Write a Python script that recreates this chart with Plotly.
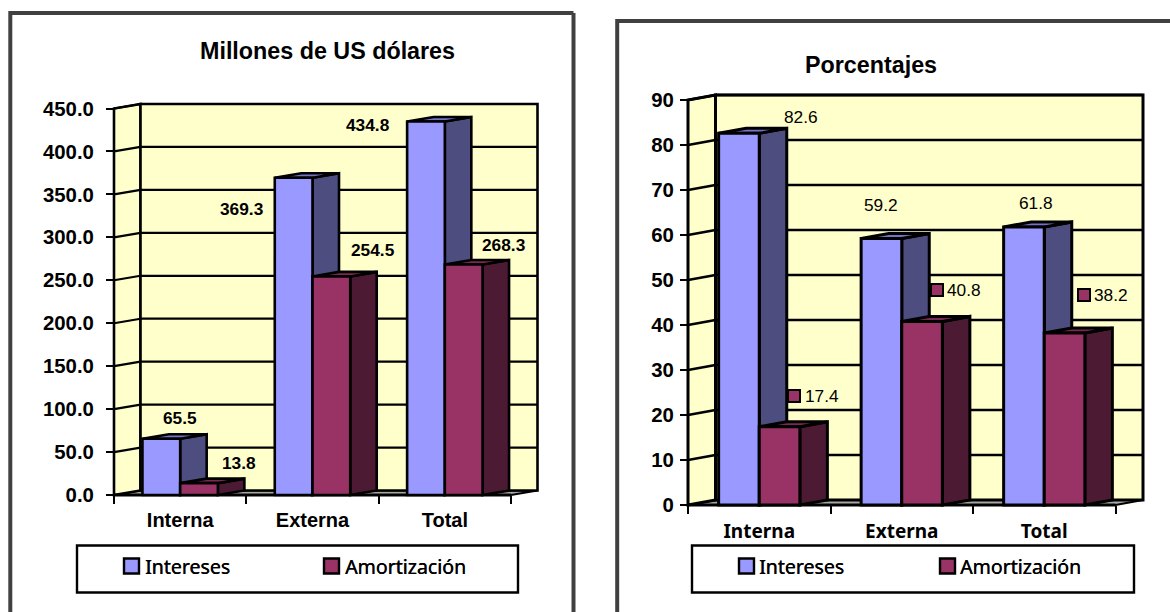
import plotly.graph_objects as go

# ---- data ----
categories = ["Interna", "Externa", "Total"]
series_names = ["Intereses", "Amortización"]
usd_intereses = [65.5, 369.3, 434.8]
usd_amortizacion = [13.8, 254.5, 268.3]
pct_intereses = [82.6, 59.2, 61.8]
pct_amortizacion = [17.4, 40.8, 38.2]
usd_ticks = [0, 50, 100, 150, 200, 250, 300, 350, 400, 450]
pct_ticks = [0, 10, 20, 30, 40, 50, 60, 70, 80, 90]
titles = ["Millones de US dólares", "Porcentajes"]

# ---- styles ----
W, H = 1170, 612
C_I, C_I_SIDE, C_I_TOP = "#9999FF", "#4D4D80", "#7373C8"
C_A, C_A_SIDE, C_A_TOP = "#993366", "#4D1A33", "#7A2952"
WALL, FLOOR = "#FFFFCC", "#A8A8A2"
BARGAP = 0.43
SANS = "Liberation Sans"
LEG = "Noto Sans"

panels = [
    dict(sfx="", left=114, right=511, bottom=495, top=108.5, ddx=26.5, ddy=4.5,
         ymax=450, ticks=usd_ticks, fmt=".1f", vals=(usd_intereses, usd_amortizacion),
         lw=2.2, blw=2.6, ystand=8, tickfont=dict(family=SANS, size=20.4, weight="bold"),
         xfont=dict(family=SANS, size=20, weight="bold"), xstand=11,
         labelfont=dict(family=SANS, size=17.3, weight="bold"),
         shifts=[[(19, 21), (-52, -31), (-58, -3.5)], [(40, 20), (42, 26), (40, 19.5)]],
         keys=[[None, None, None], [None, None, None]]),
    dict(sfx="2", left=688, right=1115.5, bottom=505, top=100, ddx=27.5, ddy=5,
         ymax=90, ticks=pct_ticks, fmt="d", vals=(pct_intereses, pct_amortizacion),
         lw=2.6, blw=3, ystand=2, tickfont=dict(family=SANS, size=20.4, weight="bold"),
         xfont=dict(family=LEG, size=19, weight="bold"), xstand=13,
         labelfont=dict(family=SANS, size=17.3),
         shifts=[[(62, 16), (0, 33.6), (12, 24)], [(42, 31), (42.4, 31), (46, 38)]],
         keys=[[None, None, None], [(14, 31), (15.4, 31), (19, 38)]]),
]

fig = go.Figure()
shapes, annots = [], []
PAD = 4


def poly(xs, ys, xr, yr, fill, lw=2.4, line="black"):
    path = "M" + "L".join(f"{x},{y}" for x, y in zip(xs, ys)) + "Z"
    shapes.append(dict(type="path", path=path, xref=xr, yref=yr, fillcolor=fill,
                       layer="below", line=dict(color=line, width=lw)))


def seg(x0, y0, x1, y1, xr, yr, lw=2, color="black"):
    shapes.append(dict(type="line", x0=x0, y0=y0, x1=x1, y1=y1, xref=xr, yref=yr,
                       layer="below", line=dict(color=color, width=lw)))


layout_axes = {}
for p in panels:
    sfx = p["sfx"]
    n = len(categories)
    catw = (p["right"] - p["left"]) / n
    ppu = (p["bottom"] - p["top"]) / p["ymax"]
    dx, dy = p["ddx"] / catw, p["ddy"] / ppu
    xr, yr = "x" + sfx, "y" + sfx
    xa = dict(
        domain=[(p["left"] - PAD) / W, (p["right"] + p["ddx"] + PAD) / W],
        range=[-PAD / catw, n + dx + PAD / catw], automargin=False,
        anchor="free", position=1 - p["bottom"] / H,
        tickmode="array", tickvals=[i + 0.5 for i in range(n)], ticktext=categories,
        ticks="", showgrid=False, zeroline=False, showline=False,
        tickfont=dict(color="black", **p["xfont"]), ticklabelstandoff=p["xstand"],
        minor=dict(ticks="outside", tickmode="array", tickvals=list(range(n + 1)),
                   ticklen=8, tickwidth=2, tickcolor="black", showgrid=False),
    )
    ya = dict(
        domain=[1 - (p["bottom"] + PAD) / H, 1 - (p["top"] - p["ddy"] - PAD) / H],
        range=[-PAD / ppu, p["ymax"] + dy + PAD / ppu], automargin=False,
        anchor="free", position=p["left"] / W,
        tickmode="array", tickvals=p["ticks"], tickformat=p["fmt"],
        ticks="outside", ticklen=8, tickwidth=2, tickcolor="black",
        showgrid=False, zeroline=False, showline=False,
        tickfont=dict(color="black", **p["tickfont"]), ticklabelstandoff=p["ystand"],
    )
    layout_axes["xaxis" + sfx] = xa
    layout_axes["yaxis" + sfx] = ya

    lw = p["lw"]
    blw = p["blw"]
    ym = p["ymax"]
    # floor
    poly([0, n, n + dx, dx], [0, 0, dy, dy], xr, yr, FLOOR, 2)
    # side wall and back wall
    poly([0, dx, dx, 0], [0, dy, ym + dy, ym], xr, yr, WALL, blw)
    poly([dx, n + dx, n + dx, dx], [dy, dy, ym + dy, ym + dy], xr, yr, WALL, blw)
    for t in p["ticks"][1:]:
        seg(0, t, dx, t + dy, xr, yr, lw)
        seg(dx, t + dy, n + dx, t + dy, xr, yr, lw)
    seg(0, 0, n, 0, xr, yr, 3)

    w = (1 - BARGAP) / 2
    sets = [(p["vals"][0], C_I, C_I_SIDE, C_I_TOP), (p["vals"][1], C_A, C_A_SIDE, C_A_TOP)]
    for si, (vals, front, side, top) in enumerate(sets):
        for i, v in enumerate(vals):
            x0 = i + BARGAP / 2 + si * w
            x1 = x0 + w
            poly([x1, x1, x1 + dx, x1 + dx], [0, v, v + dy, dy], xr, yr, side, blw)
            poly([x0, x1, x1 + dx, x0 + dx], [v, v, v + dy, v + dy], xr, yr, top, blw)
            sx, sy = p["shifts"][si][i]
            annots.append(dict(x=x0 + w / 2, y=v, xref=xr, yref=yr, text=f"{v:.1f}",
                               showarrow=False, xshift=sx, yshift=sy,
                               font=dict(color="black", **p["labelfont"])))
            k = p["keys"][si][i]
            if k:
                annots.append(dict(x=x0 + w / 2, y=v, xref=xr, yref=yr, text=" ",
                                   showarrow=False, xshift=k[0], yshift=k[1], width=10, height=10,
                                   bgcolor=C_A, bordercolor="black", borderwidth=2,
                                   borderpad=0, font=dict(size=1)))
        fig.add_trace(go.Bar(
            x=[i + 0.5 for i in range(n)], y=vals, name=series_names[si],
            xaxis=xr, yaxis=yr, marker=dict(color=front, line=dict(color="black", width=blw)),
            hoverinfo="x+y", showlegend=False,
        ))


def px_x(v):
    return v / W


def px_y(v):
    return 1 - v / H


FRAME = "#404040"
# outer frames
for x0, y0, x1, y1 in [(10.3, 13, 573.5, 13), (10.3, 11, 10.3, 612), (573.5, 13, 573.5, 612),
                       (617.2, 21, 1170, 21), (617.2, 19, 617.2, 612)]:
    shapes.append(dict(type="line", xref="paper", yref="paper", x0=px_x(x0), x1=px_x(x1),
                       y0=px_y(y0), y1=px_y(y1), layer="below",
                       line=dict(color=FRAME, width=4)))

# legends (boxes, keys, texts)
legends = [
    dict(box=(77, 545.5, 518, 592.5), keys=(124, 324), tx=(143, 343)),
    dict(box=(692, 545.5, 1134, 592.5), keys=(739, 940), tx=(757, 958)),
]
for lg, (cx, cy, title) in zip(legends, [(327, 51, titles[0]), (871, 65, titles[1])]):
    x0, y0, x1, y1 = lg["box"]
    shapes.append(dict(type="rect", xref="paper", yref="paper", x0=px_x(x0), x1=px_x(x1),
                       y0=px_y(y0), y1=px_y(y1), fillcolor="white", layer="below",
                       line=dict(color="black", width=2.4)))
    for kx, color, tx, name in zip(lg["keys"], (C_I, C_A), lg["tx"], series_names):
        shapes.append(dict(type="rect", xref="paper", yref="paper", x0=px_x(kx), x1=px_x(kx + 15),
                           y0=px_y(558.5), y1=px_y(573.5), fillcolor=color, layer="below",
                           line=dict(color="black", width=2.4)))
        annots.append(dict(xref="paper", yref="paper", x=px_x(tx), y=px_y(566.5), text=name,
                           xanchor="left", yanchor="middle", showarrow=False,
                           font=dict(family=LEG, size=19.5, color="black",
                                     shadow="0.4px 0 0 black")))
    annots.append(dict(xref="paper", yref="paper", x=px_x(cx), y=px_y(cy), text=title,
                       xanchor="center", yanchor="middle", showarrow=False,
                       font=dict(family=SANS, size=23.3, color="black", weight="bold")))

fig.update_layout(
    width=W, height=H, margin=dict(l=0, r=0, t=0, b=0, pad=0, autoexpand=False), autosize=False,
    paper_bgcolor="white", plot_bgcolor="rgba(0,0,0,0)",
    barmode="group", bargap=BARGAP, bargroupgap=0, showlegend=False,
    shapes=shapes, annotations=annots, **layout_axes,
)
fig.write_html("out.html", default_width="1170px", default_height="612px",
               config=dict(displayModeBar=False, responsive=False),
               post_script="document.body.style.margin='0';document.body.style.overflow='hidden';")
